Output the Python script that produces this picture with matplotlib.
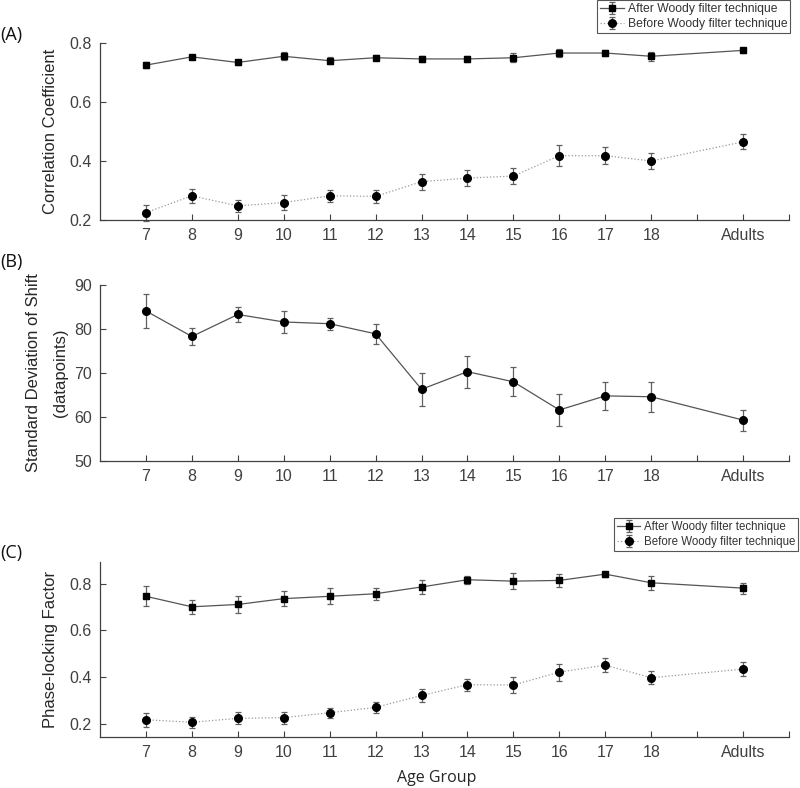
import matplotlib
matplotlib.use("Agg")
import matplotlib.pyplot as plt

plt.rcParams['font.family'] = ['Liberation Sans', 'DejaVu Sans']

# x positions: ages 7..18, adults placed at 20 (gap at 19)
age_pos = [7, 8, 9, 10, 11, 12, 13, 14, 15, 16, 17, 18, 20]
tick_pos = [7, 8, 9, 10, 11, 12, 13, 14, 15, 16, 17, 18, 19, 20, 21]
tick_lbl = ['7', '8', '9', '10', '11', '12', '13', '14', '15', '16', '17', '18', '', 'Adults', '']

# (A) correlation coefficient
corr_after = [0.725, 0.753, 0.734, 0.755, 0.740, 0.750, 0.746, 0.746, 0.750, 0.766, 0.766, 0.755, 0.775]
corr_after_err = [0.011, 0.007, 0.010, 0.013, 0.012, 0.008, 0.009, 0.010, 0.015, 0.014, 0.011, 0.016, 0.008]
corr_before = [0.225, 0.282, 0.248, 0.259, 0.282, 0.280, 0.330, 0.342, 0.349, 0.418, 0.418, 0.400, 0.465]
corr_before_err = [0.027, 0.023, 0.021, 0.026, 0.021, 0.021, 0.027, 0.027, 0.027, 0.036, 0.028, 0.027, 0.025]

# (B) standard deviation of shift
sd_shift = [84.1, 78.3, 83.3, 81.6, 81.2, 78.9, 66.3, 70.3, 68.0, 61.6, 64.8, 64.6, 59.3]
sd_shift_err = [3.8, 2.0, 1.7, 2.4, 1.4, 2.2, 3.7, 3.6, 3.3, 3.7, 3.1, 3.4, 2.4]

# (C) phase-locking factor
plf_after = [0.746, 0.701, 0.711, 0.736, 0.746, 0.757, 0.786, 0.817, 0.811, 0.814, 0.841, 0.804, 0.781]
plf_after_err = [0.043, 0.031, 0.036, 0.033, 0.034, 0.026, 0.030, 0.018, 0.034, 0.026, 0.011, 0.029, 0.024]
plf_before = [0.217, 0.206, 0.223, 0.226, 0.247, 0.270, 0.321, 0.367, 0.366, 0.421, 0.451, 0.397, 0.434]
plf_before_err = [0.031, 0.024, 0.026, 0.026, 0.021, 0.023, 0.026, 0.026, 0.034, 0.036, 0.029, 0.027, 0.029]

W, H = 800, 788
fig = plt.figure(figsize=(8, 7.88), dpi=100)

axc = '#404040'
linec = '#555555'
errc = '#606060'


def make_ax(top_px, bot_px):
    ax = fig.add_axes([100 / W, 1 - bot_px / H, 689 / W, (bot_px - top_px) / H])
    ax.spines['top'].set_visible(False)
    ax.spines['right'].set_visible(False)
    for s in ('left', 'bottom'):
        ax.spines[s].set_color(axc)
        ax.spines[s].set_linewidth(0.9)
    ax.tick_params(direction='in', length=4.5, width=0.8, colors=axc, labelsize=11.5, pad=6)
    ax.set_xlim(6, 21)
    ax.set_xticks(tick_pos)
    ax.set_xticklabels(tick_lbl)
    return ax


def plot_pair(ax, after, after_err, before, before_err):
    h1 = ax.errorbar(age_pos, after, yerr=after_err, color=linec, ecolor=errc, elinewidth=0.9,
                     capsize=2.5, capthick=0.9, lw=0.9, ls='-', marker='s', ms=4.5,
                     mfc='black', mec='black', clip_on=False)
    h2 = ax.errorbar(age_pos, before, yerr=before_err, color='#999999', ecolor=errc, elinewidth=0.9,
                     capsize=2.5, capthick=0.9, lw=0.9, ls=':', marker='o', ms=5.5,
                     mfc='black', mec='black', clip_on=False)
    return h1, h2


def add_legend(ax, handles, anchor, size):
    leg = ax.legend(handles, ['After Woody filter technique', 'Before Woody filter technique'],
                    loc='upper right', bbox_to_anchor=anchor, fontsize=size, frameon=True,
                    fancybox=False, framealpha=1, edgecolor='#555555', borderpad=0.25,
                    labelspacing=0.25, handlelength=2.0, handletextpad=0.3, borderaxespad=0)
    leg.get_frame().set_linewidth(0.8)
    for t in leg.get_texts():
        t.set_color('#333333')


# panel A
axA = make_ax(43, 220)
hA = plot_pair(axA, corr_after, corr_after_err, corr_before, corr_before_err)
axA.set_ylim(0.2, 0.8)
axA.set_yticks([0.2, 0.4, 0.6, 0.8])
add_legend(axA, hA, (1.002, 1.243), 8.7)

# panel B
axB = make_ax(285, 461)
axB.errorbar(age_pos, sd_shift, yerr=sd_shift_err, color=linec, ecolor=errc, elinewidth=0.9,
             capsize=2.5, capthick=0.9, lw=0.9, marker='o', ms=5.5, mfc='black', mec='black')
axB.set_ylim(50, 90)
axB.set_yticks([50, 60, 70, 80, 90])

# panel C
axC = make_ax(562, 737)
hC = plot_pair(axC, plf_after, plf_after_err, plf_before, plf_before_err)
axC.set_ylim(0.143, 0.893)
axC.set_yticks([0.2, 0.4, 0.6, 0.8])
add_legend(axC, hC, (1.013, 1.251), 8.3)

# axis labels
fig.text(51 / W, 1 - 131 / H, 'Correlation Coefficient', rotation=90, ha='center', va='center',
         fontsize=12, color='#262626')
fig.text(47 / W, 1 - 373 / H, 'Standard Deviation of Shift\n(datapoints)', rotation=90, ha='center',
         va='center', fontsize=12, color='#262626', linespacing=2.0, multialignment='center')
fig.text(51 / W, 1 - 649 / H, 'Phase-locking Factor', rotation=90, ha='center', va='center',
         fontsize=12, color='#262626')
fig.text(437 / W, 1 - 778 / H, 'Age Group', ha='center', va='center', fontsize=11.5,
         color='#262626', family=['Open Sans', 'DejaVu Sans'])

# panel letters
for lbl, y in [('(A)', 35), ('(B)', 262), ('(C)', 553)]:
    fig.text(0, 1 - y / H, lbl, ha='left', va='center', fontsize=13, color='#111111',
             family=['Open Sans', 'DejaVu Sans'])

fig.savefig('out.png', dpi=100)
